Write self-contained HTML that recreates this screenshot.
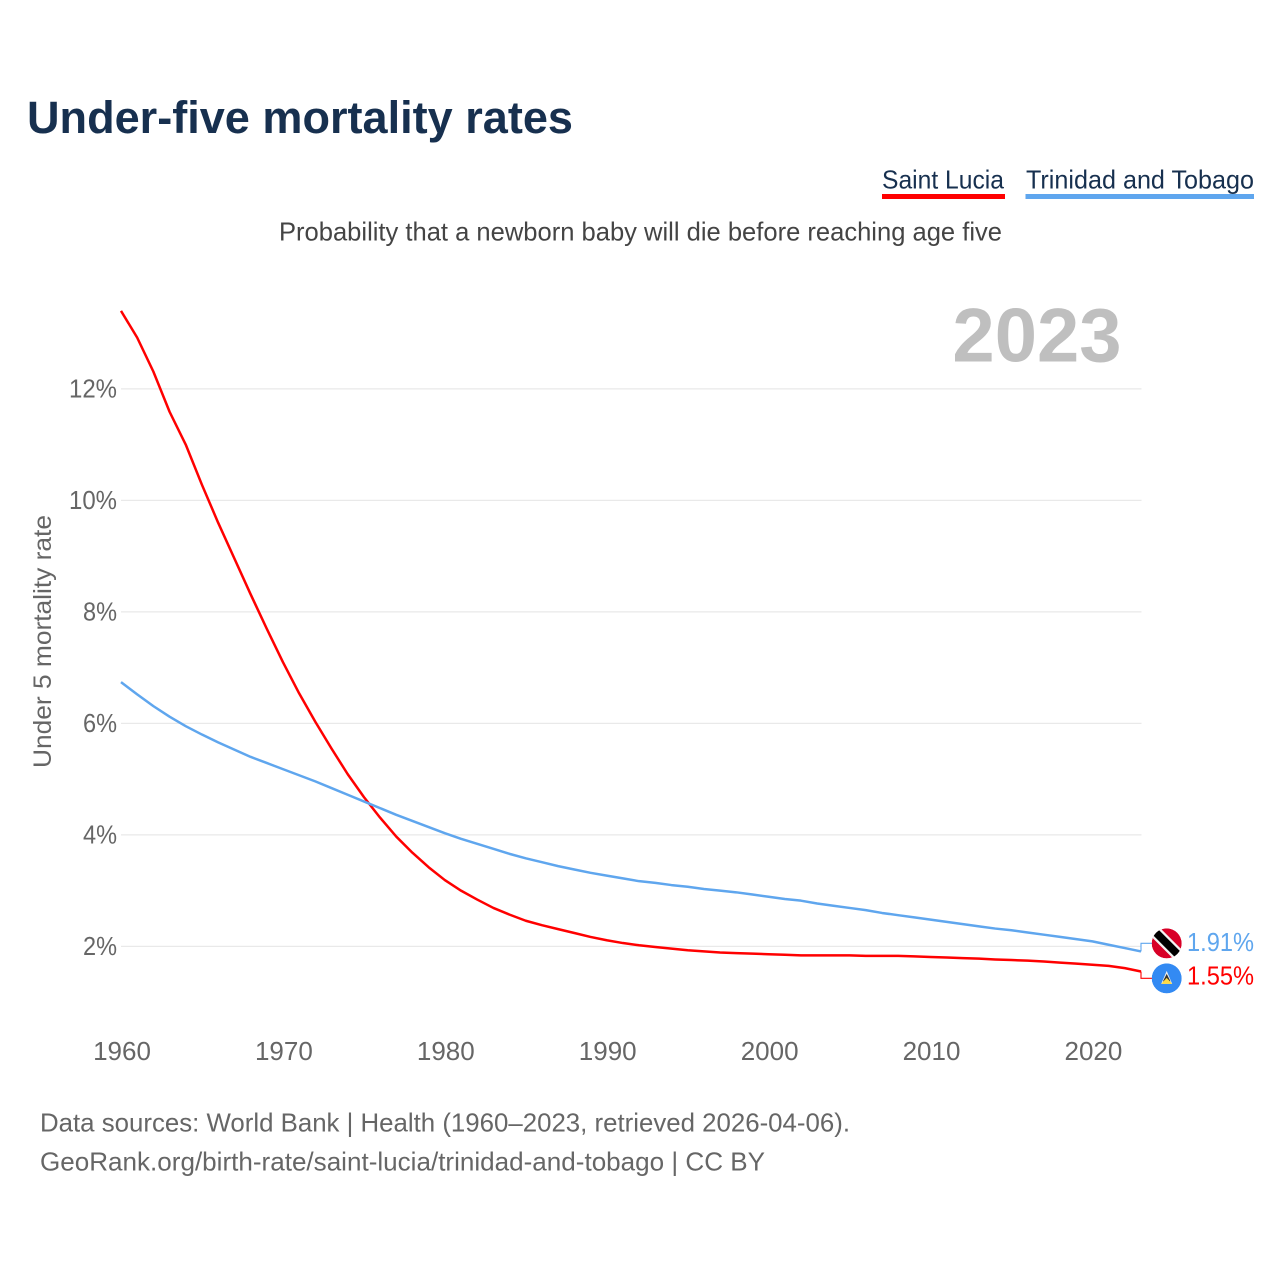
<!DOCTYPE html>
<html lang="en">
<head>
<meta charset="utf-8">
<title>Under-five mortality rates</title>
<style>
  html, body { margin: 0; padding: 0; background: #fff; }
  svg { display: block; font-family: "Liberation Sans", sans-serif; }
</style>
</head>
<body>
<svg id="chart" xmlns="http://www.w3.org/2000/svg" width="1280" height="1280" viewBox="0 0 1280 1280">
  <defs>
    <clipPath id="flag-clip"><circle cx="0" cy="0" r="15"></circle></clipPath>
  </defs>
  <rect x="0" y="0" width="1280" height="1280" fill="#ffffff"></rect>

  <text x="27" y="133" font-size="45" font-weight="700" fill="#17304f" textLength="546" lengthAdjust="spacingAndGlyphs">Under-five mortality rates</text>

  <g>
    <g>
      <text x="882" y="188.5" font-size="26" fill="#17304f" textLength="122" lengthAdjust="spacingAndGlyphs">Saint Lucia</text>
      <rect x="882" y="194" width="123" height="5" fill="#ff0000"></rect>
    </g>
    <g>
      <text x="1026" y="188.5" font-size="26" fill="#17304f" textLength="228" lengthAdjust="spacingAndGlyphs">Trinidad and Tobago</text>
      <rect x="1025.5" y="194" width="228.5" height="5" fill="#5fa6ee"></rect>
    </g>
  </g>

  <text x="279" y="240.5" font-size="26" fill="#444444" textLength="723" lengthAdjust="spacingAndGlyphs">Probability that a newborn baby will die before reaching age five</text>

  <text transform="translate(51 768) rotate(-90)" x="0" y="0" font-size="25" fill="#666666" textLength="253" lengthAdjust="spacingAndGlyphs">Under 5 mortality rate</text>

  <g id="grid"></g>
  <g id="y-ticks"></g>
  <g id="x-ticks"></g>

  <text x="1121.5" y="361.5" font-size="76" font-weight="700" fill="#bfbfbf" text-anchor="end">2023</text>

  <g id="series"></g>
  <g id="end-labels"></g>

  <text x="40" y="1131.5" font-size="26" fill="#666666" textLength="810" lengthAdjust="spacingAndGlyphs">Data sources: World Bank | Health (1960–2023, retrieved 2026-04-06).</text>
  <text x="40" y="1170.5" font-size="26" fill="#666666" textLength="725" lengthAdjust="spacingAndGlyphs">GeoRank.org/birth-rate/saint-lucia/trinidad-and-tobago | CC BY</text>
</svg>

<script>
const years = [1960,1961,1962,1963,1964,1965,1966,1967,1968,1969,1970,1971,1972,1973,1974,1975,1976,1977,1978,1979,1980,1981,1982,1983,1984,1985,1986,1987,1988,1989,1990,1991,1992,1993,1994,1995,1996,1997,1998,1999,2000,2001,2002,2003,2004,2005,2006,2007,2008,2009,2010,2011,2012,2013,2014,2015,2016,2017,2018,2019,2020,2021,2022,2023];
const saintLucia = [13.40,12.92,12.31,11.59,11.00,10.28,9.60,8.96,8.32,7.70,7.10,6.54,6.03,5.55,5.09,4.68,4.31,3.97,3.68,3.42,3.19,3.00,2.84,2.69,2.57,2.46,2.38,2.31,2.24,2.17,2.11,2.06,2.02,1.99,1.96,1.93,1.91,1.89,1.88,1.87,1.86,1.85,1.84,1.84,1.84,1.84,1.83,1.83,1.83,1.82,1.81,1.80,1.79,1.78,1.765,1.755,1.745,1.73,1.71,1.69,1.67,1.65,1.61,1.55];
const trinidadTobago = [6.74,6.52,6.31,6.12,5.95,5.80,5.66,5.53,5.40,5.29,5.18,5.07,4.96,4.84,4.72,4.60,4.48,4.36,4.25,4.14,4.03,3.93,3.84,3.75,3.66,3.58,3.51,3.44,3.38,3.32,3.27,3.22,3.17,3.14,3.10,3.07,3.03,3.00,2.97,2.93,2.89,2.85,2.82,2.77,2.73,2.69,2.65,2.60,2.56,2.52,2.48,2.44,2.40,2.36,2.32,2.29,2.25,2.21,2.17,2.13,2.09,2.03,1.97,1.91];
const yTickValues = [2,4,6,8,10,12];
const yTickLabels = ["2%","4%","6%","8%","10%","12%"];
const xTickValues = [1960,1970,1980,1990,2000,2010,2020];
const xTickLabels = ["1960","1970","1980","1990","2000","2010","2020"];

const NS = "http://www.w3.org/2000/svg";
function xScale(year) { return 121 + (year - 1960) * (1020 / 63); }
function yScale(value) { return 946.4 - (value - 2) * 55.75; }
function make(tag, attrs, parent) {
  const el = document.createElementNS(NS, tag);
  for (const k in attrs) el.setAttribute(k, attrs[k]);
  parent.appendChild(el);
  return el;
}

const gridG = document.getElementById("grid");
const yTicksG = document.getElementById("y-ticks");
const xTicksG = document.getElementById("x-ticks");
const seriesG = document.getElementById("series");
const endG = document.getElementById("end-labels");

yTickValues.forEach(function (v, i) {
  const line = make("line", { x1: 121, x2: 1141.5, y1: yScale(v), y2: yScale(v), stroke: "#e9e9e9", "stroke-width": 1.2 }, gridG);
  
  
  const label = yTickLabels[i];
  const t = make("text", { x: 117 - (label.length === 3 ? 48 : 34), y: yScale(v) + 8.5, "font-size": 26, fill: "#666666", textLength: label.length === 3 ? 48 : 34, lengthAdjust: "spacingAndGlyphs" }, yTicksG);
  
  
  t.textContent = label;
});

xTickValues.forEach(function (yr, i) {
  const t = make("text", { x: xScale(yr) + 1, y: 1060, "font-size": 26, fill: "#666666", "text-anchor": "middle" }, xTicksG);
  
  
  t.textContent = xTickLabels[i];
});

function linePath(values) {
  return values.map(function (v, i) {
    return (i ? "L" : "M") + xScale(years[i]).toFixed(2) + " " + yScale(v).toFixed(2);
  }).join(" ");
}

const redLine = make("path", { d: linePath(saintLucia), fill: "none", stroke: "#ff0000", "stroke-width": 2.5, "stroke-linejoin": "round" }, seriesG);



const blueLine = make("path", { d: linePath(trinidadTobago), fill: "none", stroke: "#5fa6ee", "stroke-width": 2.5, "stroke-linejoin": "round" }, seriesG);



const lastBlue = trinidadTobago[trinidadTobago.length - 1];
const lastRed = saintLucia[saintLucia.length - 1];
const endBlueY = yScale(lastBlue);
const endRedY = yScale(lastRed);
const midY = (endBlueY + endRedY) / 2 - 0.6;
const blueOnTop = endBlueY <= endRedY;
const flagBlueY = midY + (blueOnTop ? -17.5 : 17.5);
const flagRedY = midY + (blueOnTop ? 17.5 : -17.5);

const blueConnector = make("path", { d: "M1141 " + endBlueY + " V" + flagBlueY + " H1152", fill: "none", stroke: "#5fa6ee", "stroke-width": 1.1 }, endG);



const redConnector = make("path", { d: "M1141 " + endRedY + " V" + flagRedY + " H1152", fill: "none", stroke: "#ff0000", "stroke-width": 1.1 }, endG);



const ttFlag = make("g", { transform: "translate(1166.7 " + flagBlueY + ")", "clip-path": "url(#flag-clip)" }, endG);


make("circle", { cx: 0, cy: 0, r: 15, fill: "#d80027" }, ttFlag);
make("rect", { x: -22, y: -6.2, width: 44, height: 12.4, fill: "#f2f2f2", transform: "rotate(45)" }, ttFlag);
make("rect", { x: -22, y: -3.9, width: 44, height: 7.8, fill: "#000000", transform: "rotate(45)" }, ttFlag);

const lcFlag = make("g", { transform: "translate(1166.7 " + flagRedY + ")", "clip-path": "url(#flag-clip)" }, endG);


make("circle", { cx: 0, cy: 0, r: 15, fill: "#338af3" }, lcFlag);
make("polygon", { points: "0,-7.5 -5.5,5.5 5.5,5.5", fill: "#f0f0f0" }, lcFlag);
make("polygon", { points: "0,-4.5 -3.8,3 3.8,3", fill: "#333333" }, lcFlag);
make("polygon", { points: "0,-0.5 -5.5,5.5 5.5,5.5", fill: "#ffda44" }, lcFlag);

const blueValue = make("text", { x: 1187, y: flagBlueY + 7.6, "font-size": 26, fill: "#5fa6ee", textLength: 67, lengthAdjust: "spacingAndGlyphs" }, endG);


blueValue.textContent = lastBlue.toFixed(2) + "%";

const redValue = make("text", { x: 1187, y: flagRedY + 6.2, "font-size": 26, fill: "#ff0000", textLength: 67, lengthAdjust: "spacingAndGlyphs" }, endG);


redValue.textContent = lastRed.toFixed(2) + "%";
</script>
</body>
</html>
